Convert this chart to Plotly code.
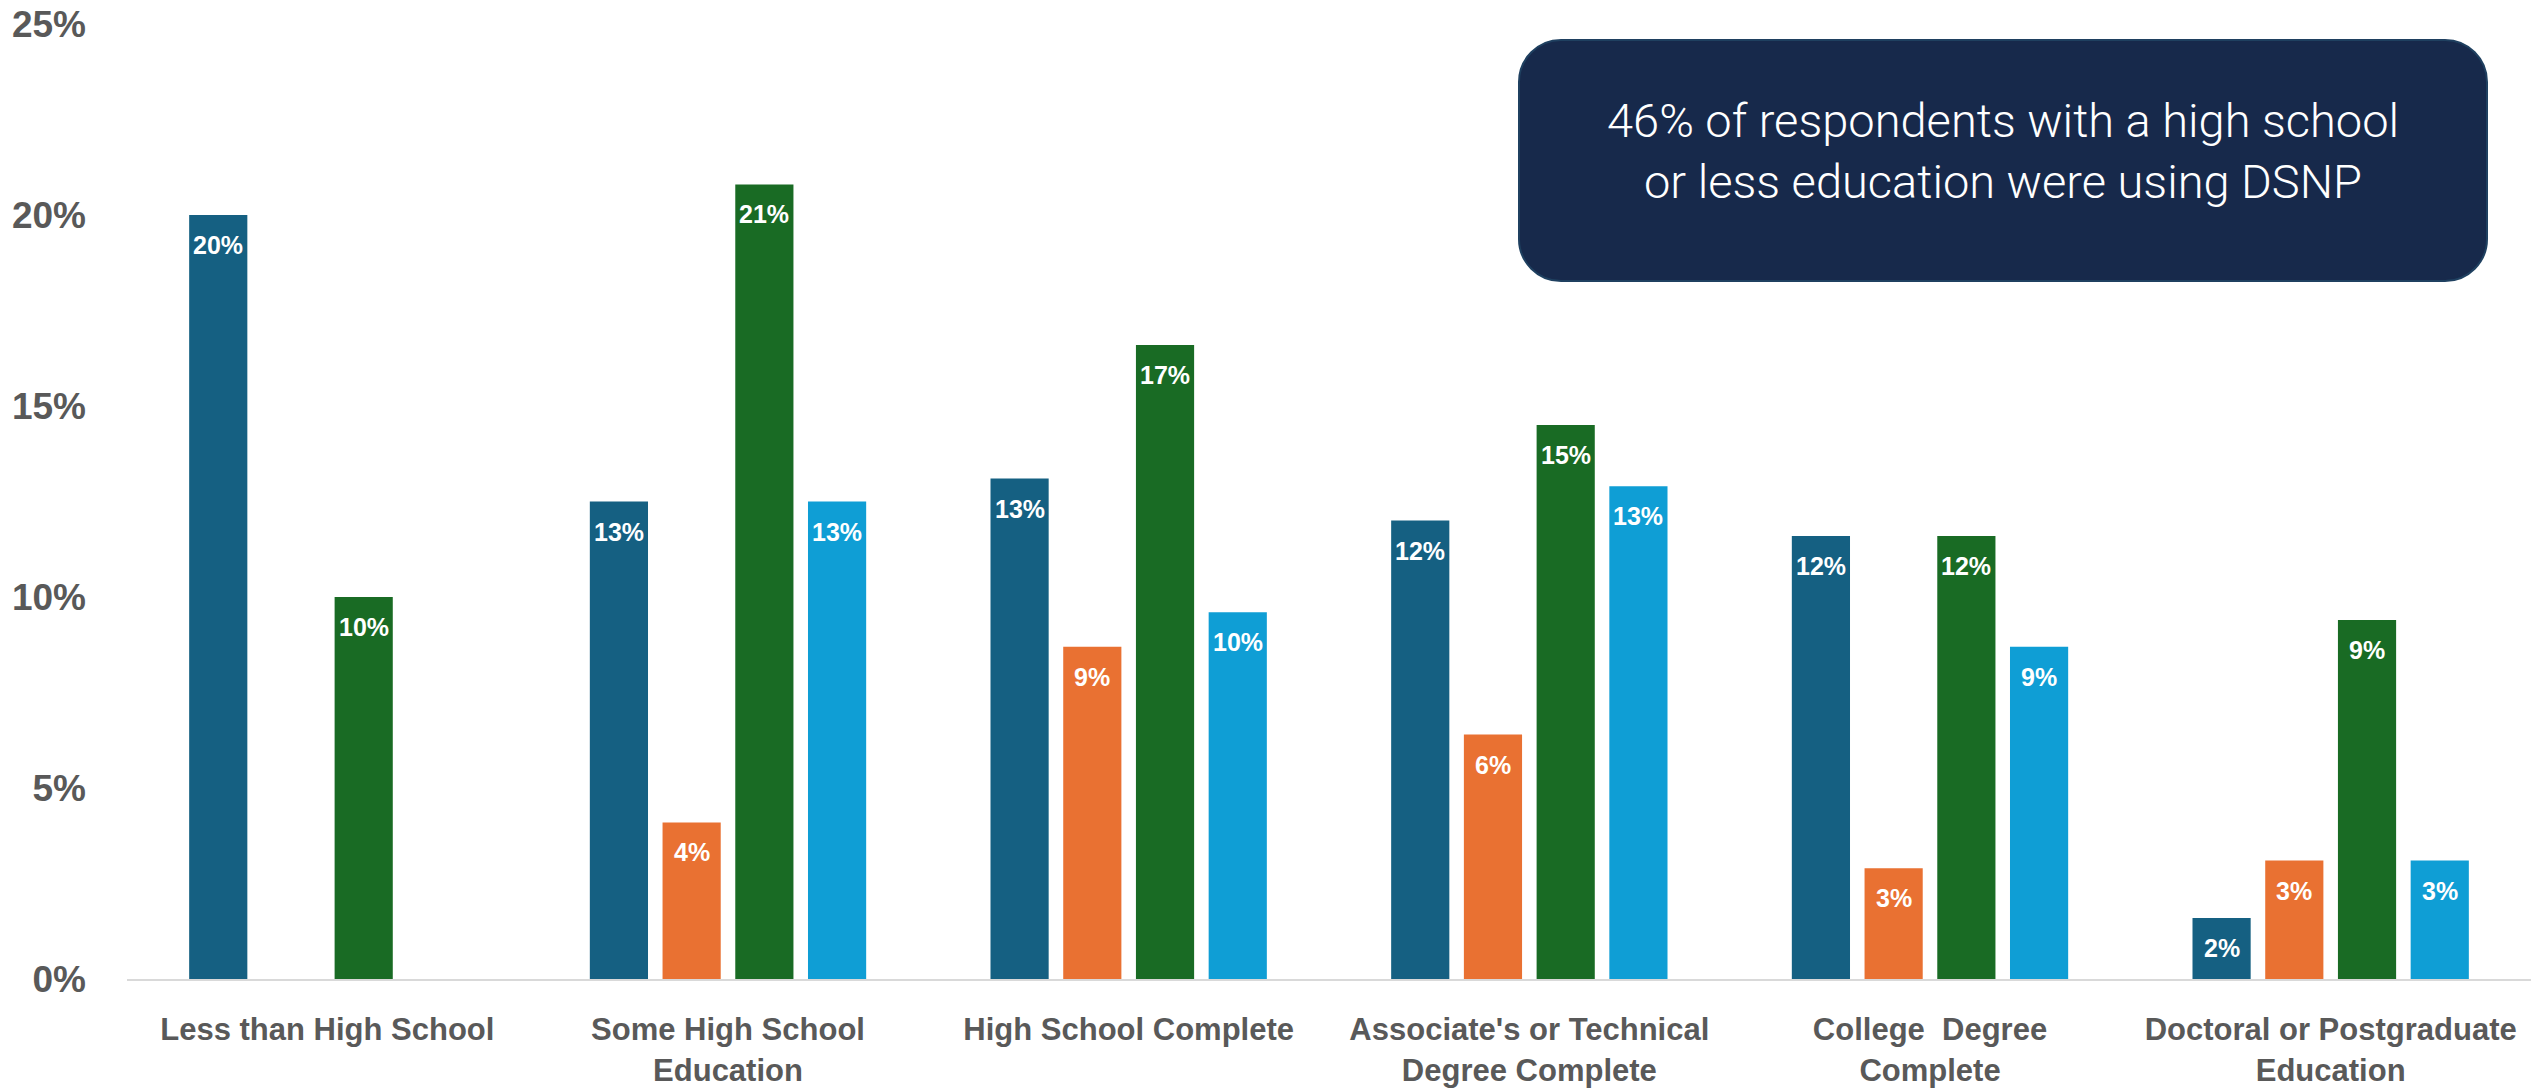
import plotly.graph_objects as go

# Education level categories (x axis)
categories = [
    "Less than High School",
    "Some High School<br>Education",
    "High School Complete",
    "Associate's or Technical<br>Degree Complete",
    "College\u00a0 Degree<br>Complete",
    "Doctoral or Postgraduate<br>Education",
]

# Share of respondents (%) per series; None = no bar
series_a = [20.0, 12.5, 13.1, 12.0, 11.6, 1.6]
series_b = [None, 4.1, 8.7, 6.4, 2.9, 3.1]
series_c = [10.0, 20.8, 16.6, 14.5, 11.6, 9.4]
series_d = [None, 12.5, 9.6, 12.9, 8.7, 3.1]

series_names = ["Series A", "Series B", "Series C", "Series D"]
series_values = [series_a, series_b, series_c, series_d]
series_colors = ["#156082", "#E97132", "#196B24", "#0F9ED5"]

y_ticks = [0, 5, 10, 15, 20, 25]
y_tick_labels = ["0%", "5%", "10%", "15%", "20%", "25%"]

callout_text = "46% of respondents with a high school<br>or less education were using DSNP"

# ---- layout constants (pixels) ----
W, H = 2542, 1089
M_L, M_R, M_T, M_B = 127, 11, 24, 110
PLOT_W = W - M_L - M_R
PLOT_H = H - M_T - M_B
BARGAP = 0.274
BARGROUPGAP = 0.2
GRAY = "#595959"


def pct_label(v):
    return f"{int(v + 0.5)}%"


fig = go.Figure()
x_idx = list(range(len(categories)))
for name, vals, col in zip(series_names, series_values, series_colors):
    fig.add_trace(go.Bar(
        x=x_idx, y=vals, name=name,
        marker=dict(color=col, line=dict(width=0)),
        hoverinfo="skip",
    ))

# value labels placed inside the top of each bar
n_series = len(series_values)
slot = (1 - BARGAP) / n_series
annotations = []
for i, vals in enumerate(series_values):
    offset = (i - (n_series - 1) / 2) * slot
    for k, v in enumerate(vals):
        if v is None:
            continue
        annotations.append(dict(
            x=k + offset, y=v, xref="x", yref="y",
            text=pct_label(v), showarrow=False,
            yanchor="middle", yshift=-30,
            font=dict(family="Liberation Sans", size=25, color="white", weight="bold"),
        ))


def px_to_paper(px, py):
    return (px - M_L) / PLOT_W, (H - M_B - py) / PLOT_H


# rounded callout box
bx0, by0, bx1, by1, r = 1519, 40, 2487, 281, 42
k = 0.5523 * r


def P(px, py):
    x, y = px_to_paper(px, py)
    return f"{x:.6f},{y:.6f}"


path = (
    f"M {P(bx0 + r, by0)} L {P(bx1 - r, by0)} "
    f"C {P(bx1 - r + k, by0)} {P(bx1, by0 + r - k)} {P(bx1, by0 + r)} "
    f"L {P(bx1, by1 - r)} "
    f"C {P(bx1, by1 - r + k)} {P(bx1 - r + k, by1)} {P(bx1 - r, by1)} "
    f"L {P(bx0 + r, by1)} "
    f"C {P(bx0 + r - k, by1)} {P(bx0, by1 - r + k)} {P(bx0, by1 - r)} "
    f"L {P(bx0, by0 + r)} "
    f"C {P(bx0, by0 + r - k)} {P(bx0 + r - k, by0)} {P(bx0 + r, by0)} Z"
)
shapes = [dict(
    type="path", xref="paper", yref="paper", path=path,
    fillcolor="#17294B", line=dict(color="#1F4060", width=2), layer="above",
)]

cx, cy = px_to_paper((bx0 + bx1) / 2, (by0 + by1) / 2 - 10)
annotations.append(dict(
    x=cx, y=cy, xref="paper", yref="paper", text=callout_text,
    showarrow=False, xanchor="center", yanchor="middle", align="center",
    font=dict(family="Roboto", size=47, color="white", weight=300),
))

fig.update_layout(
    width=W, height=H,
    margin=dict(l=M_L, r=M_R, t=M_T, b=M_B, pad=0, autoexpand=False),
    paper_bgcolor="white", plot_bgcolor="white",
    barmode="group", bargap=BARGAP, bargroupgap=BARGROUPGAP,
    showlegend=False,
    shapes=shapes, annotations=annotations,
    xaxis=dict(
        tickmode="array", tickvals=x_idx, ticktext=categories,
        range=[-0.5, len(categories) - 0.5], automargin=False,
        showgrid=False, zeroline=False,
        showline=True, linecolor="#D9D9D9", linewidth=2,
        ticks="", ticklabelstandoff=22,
        tickfont=dict(family="Liberation Sans", size=31, color=GRAY, weight="bold"),
    ),
    yaxis=dict(
        range=[0, 25], tickmode="array", tickvals=y_ticks, ticktext=y_tick_labels,
        automargin=False,
        showgrid=False, zeroline=False, showline=False, ticks="",
        ticklabelstandoff=40,
        tickfont=dict(family="Liberation Sans", size=37, color=GRAY, weight="bold"),
    ),
)

fig.write_html("out.html", config={"displayModeBar": False})
